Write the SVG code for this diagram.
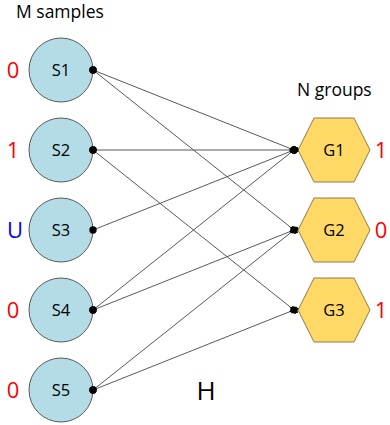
<svg xmlns="http://www.w3.org/2000/svg" width="390" height="425" viewBox="0 0 390 425">
<defs>
<style>
.t{font-family:"Open Sans","Liberation Sans",sans-serif;fill:#000}
.title{font-size:17.5px}
.lbl{font-size:16.5px;text-anchor:middle}
.val{font-size:22px;text-anchor:middle}
.red{fill:#ff0000}
.blue{fill:#0000ff}
.s circle{fill:#b4dce6;stroke:#595959;stroke-width:1}
.g polygon{fill:#ffd966;stroke:#8c7d50;stroke-width:1}
.e{stroke:#595959;stroke-width:1;fill:none;marker-start:url(#dot);marker-end:url(#dia)}
</style>
<marker id="dot" viewBox="-4 -4 8 8" refX="0" refY="0" markerWidth="8" markerHeight="8" markerUnits="userSpaceOnUse">
<circle r="3.7" fill="#000"/>
</marker>
<marker id="dia" viewBox="-6 -5 12 10" refX="0" refY="0" markerWidth="12" markerHeight="10" markerUnits="userSpaceOnUse" orient="auto">
<polygon points="-5,0 0,-4.2 5,0 0,4.2" fill="#000"/>
</marker>
</defs>
<text class="t title" x="16" y="18">M samples</text>
<text class="t title" x="297" y="96">N groups</text>
<g id="S1" class="s"><circle cx="61" cy="70" r="32"/><text class="t lbl" x="61" y="76">S1</text><text class="t val red" x="13" y="78">0</text></g>
<g id="S2" class="s"><circle cx="61" cy="150" r="32"/><text class="t lbl" x="61" y="156">S2</text><text class="t val red" x="13" y="158">1</text></g>
<g id="S3" class="s"><circle cx="61" cy="230" r="32"/><text class="t lbl" x="61" y="236">S3</text><text class="t val blue" x="15" y="238">U</text></g>
<g id="S4" class="s"><circle cx="61" cy="310" r="32"/><text class="t lbl" x="61" y="316">S4</text><text class="t val red" x="13" y="318">0</text></g>
<g id="S5" class="s"><circle cx="61" cy="390" r="32"/><text class="t lbl" x="61" y="396">S5</text><text class="t val red" x="13" y="398">0</text></g>
<g id="G1" class="g"><polygon points="298,150 314,118 354,118 370,150 354,182 314,182"/><text class="t lbl" x="334" y="156">G1</text><text class="t val red" x="381" y="158">1</text></g>
<g id="G2" class="g"><polygon points="298,230 314,198 354,198 370,230 354,262 314,262"/><text class="t lbl" x="334" y="236">G2</text><text class="t val red" x="381" y="238">0</text></g>
<g id="G3" class="g"><polygon points="298,310 314,278 354,278 370,310 354,342 314,342"/><text class="t lbl" x="334" y="316">G3</text><text class="t val red" x="381" y="318">1</text></g>
<g id="edges">
<line class="e" x1="93" y1="70" x2="294" y2="150"/>
<line class="e" x1="93" y1="70" x2="294" y2="230"/>
<line class="e" x1="93" y1="150" x2="294" y2="150"/>
<line class="e" x1="93" y1="150" x2="294" y2="310"/>
<line class="e" x1="93" y1="230" x2="294" y2="150"/>
<line class="e" x1="93" y1="310" x2="294" y2="150"/>
<line class="e" x1="93" y1="310" x2="294" y2="230"/>
<line class="e" x1="93" y1="390" x2="294" y2="230"/>
<line class="e" x1="93" y1="390" x2="294" y2="310"/>
</g>
<text class="t" x="206" y="400" font-size="26" text-anchor="middle">H</text>
</svg>
